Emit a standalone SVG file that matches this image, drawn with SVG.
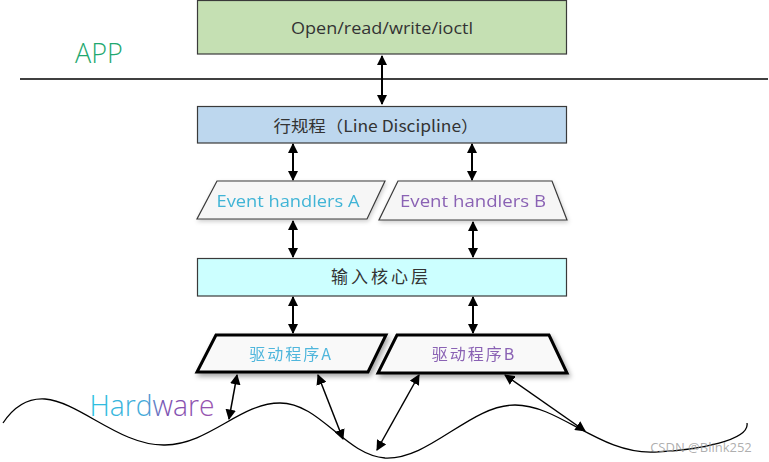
<svg xmlns="http://www.w3.org/2000/svg" width="769" height="462" viewBox="0 0 769 462">
<defs>
<marker id="ah" viewBox="0 0 10 10" refX="9" refY="5" markerWidth="5" markerHeight="5" orient="auto-start-reverse" markerUnits="strokeWidth">
<path d="M0,0 L10,5 L0,10 z" fill="#000"/>
</marker>
<marker id="ah2" viewBox="0 0 10 10" refX="9" refY="5" markerWidth="7" markerHeight="7" orient="auto-start-reverse" markerUnits="strokeWidth">
<path d="M0,0 L10,5 L0,10 z" fill="#000"/>
</marker>
<filter id="sh" x="-10%" y="-20%" width="120%" height="160%">
<feDropShadow dx="2" dy="3" stdDeviation="2.5" flood-color="#000" flood-opacity="0.35"/>
</filter>
<filter id="sh2" x="-10%" y="-20%" width="120%" height="160%">
<feDropShadow dx="1" dy="2" stdDeviation="2" flood-color="#000" flood-opacity="0.2"/>
</filter>
<linearGradient id="hw" x1="0" y1="0" x2="1" y2="0">
<stop offset="0" stop-color="#2cc0e0"/>
<stop offset="0.45" stop-color="#45a8d8"/>
<stop offset="0.6" stop-color="#7a4fb0"/>
<stop offset="1" stop-color="#9a55b0"/>
</linearGradient>
</defs>
<style>
.t{font-family:"Open Sans","Liberation Sans","Noto Sans CJK SC",sans-serif;text-anchor:middle;}
.c{font-family:"Noto Sans CJK SC",sans-serif;text-anchor:middle;}
.arr{stroke:#000;stroke-width:2;fill:none;marker-start:url(#ah);marker-end:url(#ah);}
.arr2{stroke:#000;stroke-width:1.5;fill:none;marker-start:url(#ah2);marker-end:url(#ah2);}
</style>
<rect width="769" height="462" fill="#fff"/>
<line x1="20" y1="79" x2="768" y2="79" stroke="#000" stroke-width="1.3"/>
<text x="99" y="63" class="t" font-size="27" fill="#1fa870" font-weight="300">APP</text>
<g id="app">
<rect x="197.5" y="0.5" width="369" height="53.5" fill="#c5e0b3" stroke="#3a3a3a" stroke-width="1.2"/>
<text x="382" y="34" class="t" font-size="16" fill="#333" textLength="182" lengthAdjust="spacingAndGlyphs">Open/read/write/ioctl</text>
</g>
<g id="ldisc">
<rect x="197.5" y="106.5" width="369" height="36.5" fill="#bdd7ee" stroke="#3a3a3a" stroke-width="1.2"/>
<text x="376" y="132" class="c" font-size="16" fill="#333" textLength="205" lengthAdjust="spacingAndGlyphs">行规程（Line Discipline）</text>
</g>
<g id="evA" filter="url(#sh2)">
<polygon points="217,181 385,181 367,219 197,219" fill="#f6f6f6" stroke="#3a3a3a" stroke-width="1.2"/>
<text x="288" y="207" class="t" font-size="16" fill="#40b4d6" textLength="143" lengthAdjust="spacingAndGlyphs">Event handlers A</text>
</g>
<g id="evB" filter="url(#sh2)">
<polygon points="398,181 552,181 567,220 379,220" fill="#f6f6f6" stroke="#3a3a3a" stroke-width="1.2"/>
<text x="473" y="207" class="t" font-size="16" fill="#8a62b4" textLength="146" lengthAdjust="spacingAndGlyphs">Event handlers B</text>
</g>
<g id="core">
<rect x="197.5" y="258.5" width="369" height="37.5" fill="#ccffff" stroke="#3a3a3a" stroke-width="1.2"/>
<text x="381" y="283" class="c" font-size="17" fill="#333" letter-spacing="3">输入核心层</text>
</g>
<g id="drvA" filter="url(#sh)">
<polygon points="216,335 386,335 368,372 197,372" fill="#f9f9f9" stroke="#000" stroke-width="3"/>
<text x="291" y="360" class="c" font-size="16" fill="#4fb6dc" letter-spacing="2">驱动程序A</text>
</g>
<g id="drvB" filter="url(#sh)">
<polygon points="397,335 549,335 567,373 378,373" fill="#f9f9f9" stroke="#000" stroke-width="3"/>
<text x="474" y="360" class="c" font-size="16" fill="#8a62b4" letter-spacing="2">驱动程序B</text>
</g>
<g id="hardware">
<path d="M3,423 C15,405 30,398 45,399 C80,402 120,446 165,445 C210,444 240,403 280,403 C320,403 345,455 385,458 C430,460 470,405 515,405 C560,405 600,455 655,452 C700,450 750,440 747,423" fill="none" stroke="#000" stroke-width="1.3"/>
<text x="152" y="416" class="t" font-size="30" fill="url(#hw)" font-weight="300" textLength="125" lengthAdjust="spacingAndGlyphs">Hardware</text>
</g>
<g id="connectors">
<line x1="382" y1="56" x2="382" y2="104" class="arr"/>
<line x1="293" y1="144" x2="293" y2="180" class="arr"/>
<line x1="472" y1="144" x2="472" y2="180" class="arr"/>
<line x1="293" y1="221" x2="293" y2="257" class="arr"/>
<line x1="473" y1="222" x2="473" y2="257" class="arr"/>
<line x1="293" y1="297" x2="293" y2="333" class="arr"/>
<line x1="473" y1="297" x2="473" y2="333" class="arr"/>
<line x1="237" y1="375" x2="229" y2="419" class="arr2"/>
<line x1="318" y1="375" x2="343" y2="439" class="arr2"/>
<line x1="419" y1="375" x2="377" y2="450" class="arr2"/>
<line x1="505" y1="375" x2="585" y2="431" class="arr2"/>
</g>
<text x="701" y="452" class="t" font-size="13" fill="#999" fill-opacity="0.8">CSDN @Blink252</text>
</svg>
